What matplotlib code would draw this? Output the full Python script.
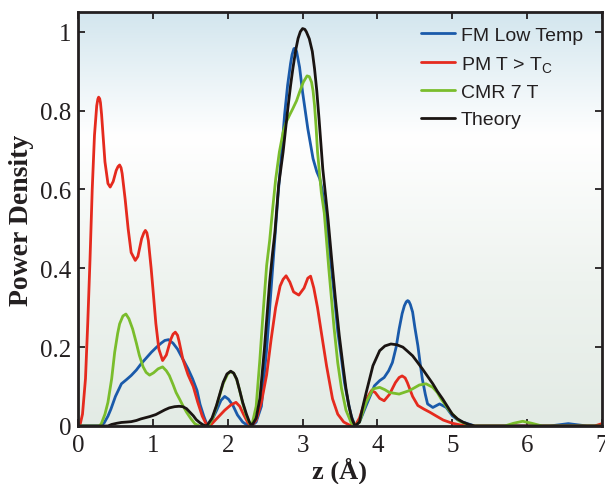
import matplotlib
matplotlib.use("Agg")
import matplotlib.pyplot as plt
import numpy as np
from matplotlib.colors import LinearSegmentedColormap

# ---- data ----
fm_z = [0.0, 0.30, 0.35, 0.40, 0.44, 0.50, 0.58, 0.65, 0.71, 0.78, 0.84, 0.91, 0.98, 1.05, 1.11, 1.16,
        1.21, 1.27, 1.33, 1.40, 1.47, 1.53, 1.59, 1.63, 1.68, 1.72, 1.74, 1.79, 1.85, 1.91, 1.96, 2.01,
        2.07, 2.13, 2.20, 2.27, 2.32, 2.38, 2.45, 2.52, 2.60, 2.67, 2.72, 2.76, 2.80, 2.84, 2.86, 2.884,
        2.90, 2.92, 2.96, 3.00, 3.07, 3.14, 3.19, 3.23, 3.26, 3.29, 3.34, 3.38, 3.43, 3.47, 3.52, 3.56,
        3.61, 3.65, 3.70, 3.76, 3.85, 3.96, 4.03, 4.09, 4.15, 4.20, 4.25, 4.29, 4.33, 4.36, 4.385, 4.404,
        4.42, 4.44, 4.47, 4.50, 4.54, 4.57, 4.60, 4.64, 4.67, 4.74, 4.83, 4.92, 5.00, 5.07, 5.14, 5.30,
        6.30, 6.55, 6.80, 7.00]
fm_v = [0.0, 0.0, 0.008, 0.025, 0.043, 0.075, 0.107, 0.118, 0.128, 0.142, 0.157, 0.172, 0.187, 0.200, 0.210, 0.217,
        0.219, 0.210, 0.195, 0.170, 0.145, 0.120, 0.090, 0.055, 0.025, 0.005, 0.0, 0.015, 0.039, 0.065, 0.075, 0.068,
        0.052, 0.028, 0.010, 0.001, 0.0, 0.010, 0.050, 0.195, 0.400, 0.580, 0.695, 0.790, 0.864, 0.920, 0.942, 0.957,
        0.958, 0.950, 0.910, 0.847, 0.754, 0.678, 0.645, 0.627, 0.600, 0.560, 0.490, 0.410, 0.320, 0.240, 0.170, 0.110,
        0.060, 0.026, 0.0, 0.010, 0.052, 0.102, 0.115, 0.123, 0.140, 0.161, 0.200, 0.246, 0.285, 0.305, 0.315, 0.318,
        0.316, 0.308, 0.289, 0.250, 0.204, 0.160, 0.119, 0.080, 0.056, 0.047, 0.056, 0.047, 0.026, 0.016, 0.010, 0.0,
        0.0, 0.006, 0.0, 0.0]

pm_z = [0.0, 0.03, 0.06, 0.10, 0.13, 0.16, 0.19, 0.22, 0.25, 0.265, 0.276, 0.29, 0.30, 0.315, 0.33, 0.36,
        0.40, 0.43, 0.47, 0.51, 0.535, 0.556, 0.575, 0.59, 0.63, 0.67, 0.71, 0.765, 0.80, 0.85, 0.88, 0.90,
        0.92, 0.94, 0.977, 1.00, 1.04, 1.08, 1.13, 1.18, 1.24, 1.27, 1.30, 1.33, 1.35, 1.40, 1.47, 1.54,
        1.60, 1.66, 1.72, 1.76, 1.82, 1.89, 1.96, 2.04, 2.11, 2.16, 2.21, 2.27, 2.32, 2.38, 2.45, 2.52,
        2.58, 2.64, 2.70, 2.74, 2.78, 2.83, 2.88, 2.95, 3.02, 3.07, 3.107, 3.15, 3.20, 3.25, 3.32, 3.40,
        3.47, 3.55, 3.63, 3.70, 3.76, 3.83, 3.92, 3.97, 4.03, 4.09, 4.16, 4.24, 4.29, 4.33, 4.37, 4.40,
        4.47, 4.54, 4.62, 4.70, 4.78, 4.88, 5.00, 5.10, 5.25, 6.00, 6.90, 7.00]
pm_v = [0.0, 0.005, 0.030, 0.120, 0.260, 0.420, 0.600, 0.737, 0.812, 0.829, 0.834, 0.830, 0.820, 0.790, 0.750, 0.670,
        0.615, 0.606, 0.620, 0.648, 0.658, 0.662, 0.655, 0.640, 0.575, 0.500, 0.440, 0.420, 0.430, 0.475, 0.490, 0.496,
        0.490, 0.470, 0.400, 0.350, 0.260, 0.195, 0.166, 0.180, 0.220, 0.233, 0.238, 0.230, 0.215, 0.170, 0.130, 0.100,
        0.060, 0.025, 0.002, 0.0, 0.012, 0.026, 0.040, 0.053, 0.060, 0.050, 0.030, 0.008, 0.0, 0.015, 0.060, 0.130,
        0.220, 0.300, 0.355, 0.372, 0.381, 0.365, 0.340, 0.332, 0.350, 0.375, 0.380, 0.350, 0.300, 0.238, 0.153, 0.069,
        0.030, 0.010, 0.002, 0.0, 0.020, 0.060, 0.090, 0.085, 0.070, 0.064, 0.080, 0.110, 0.123, 0.127, 0.122, 0.110,
        0.075, 0.052, 0.043, 0.035, 0.026, 0.015, 0.007, 0.003, 0.0, 0.0, 0.0, 0.006]

cmr_z = [0.0, 0.28, 0.31, 0.36, 0.40, 0.45, 0.49, 0.53, 0.556, 0.60, 0.64, 0.68, 0.73, 0.78, 0.82, 0.87,
         0.91, 0.956, 1.01, 1.07, 1.13, 1.18, 1.22, 1.27, 1.31, 1.36, 1.40, 1.45, 1.51, 1.56, 1.62, 1.74,
         1.80, 1.85, 1.94, 2.00, 2.04, 2.08, 2.12, 2.16, 2.20, 2.25, 2.29, 2.32, 2.38, 2.43, 2.47, 2.52,
         2.56, 2.60, 2.64, 2.69, 2.74, 2.78, 2.83, 2.87, 2.92, 2.96, 3.01, 3.06, 3.09, 3.12, 3.14, 3.16,
         3.18, 3.20, 3.25, 3.29, 3.35, 3.42, 3.47, 3.52, 3.58, 3.65, 3.70, 3.76, 3.85, 3.94, 4.03, 4.10,
         4.16, 4.29, 4.43, 4.56, 4.65, 4.74, 4.80, 4.85, 4.96, 5.09, 5.25, 5.70, 5.82, 5.94, 6.06, 6.20, 7.00]
cmr_v = [0.0, 0.0, 0.005, 0.030, 0.060, 0.120, 0.187, 0.235, 0.259, 0.279, 0.284, 0.272, 0.246, 0.210, 0.179, 0.150,
         0.136, 0.129, 0.135, 0.145, 0.150, 0.140, 0.128, 0.105, 0.085, 0.067, 0.052, 0.035, 0.018, 0.006, 0.0, 0.0,
         0.020, 0.050, 0.108, 0.132, 0.138, 0.134, 0.118, 0.090, 0.058, 0.025, 0.008, 0.0, 0.050, 0.170, 0.280, 0.407,
         0.470, 0.550, 0.625, 0.695, 0.745, 0.770, 0.790, 0.805, 0.825, 0.847, 0.872, 0.888, 0.886, 0.872, 0.850, 0.813,
         0.760, 0.695, 0.593, 0.540, 0.400, 0.250, 0.160, 0.095, 0.040, 0.008, 0.0, 0.010, 0.060, 0.094, 0.098, 0.092,
         0.085, 0.081, 0.090, 0.104, 0.107, 0.098, 0.085, 0.069, 0.039, 0.013, 0.0, 0.0, 0.007, 0.012, 0.007, 0.0, 0.0]

th_z = [0.0, 0.40, 0.45, 0.52, 0.58, 0.65, 0.71, 0.78, 0.84, 0.90, 0.96, 1.04, 1.10, 1.16, 1.22, 1.29,
        1.35, 1.40, 1.45, 1.49, 1.54, 1.58, 1.63, 1.68, 1.72, 1.79, 1.85, 1.90, 1.94, 1.99, 2.04, 2.08,
        2.12, 2.16, 2.20, 2.25, 2.29, 2.32, 2.38, 2.43, 2.49, 2.56, 2.60, 2.63, 2.68, 2.74, 2.80, 2.84,
        2.87, 2.91, 2.94, 2.97, 3.00, 3.03, 3.05, 3.09, 3.13, 3.16, 3.19, 3.22, 3.27, 3.34, 3.39, 3.44,
        3.49, 3.54, 3.58, 3.62, 3.66, 3.70, 3.76, 3.80, 3.85, 3.94, 4.03, 4.10, 4.18, 4.26, 4.34, 4.40,
        4.47, 4.53, 4.60, 4.67, 4.74, 4.80, 4.87, 4.94, 5.00, 5.07, 5.14, 5.22, 5.30, 7.00]
th_v = [0.0, 0.0, 0.004, 0.007, 0.009, 0.010, 0.011, 0.014, 0.018, 0.021, 0.024, 0.029, 0.035, 0.041, 0.046, 0.049,
        0.050, 0.049, 0.044, 0.036, 0.026, 0.016, 0.008, 0.002, 0.0, 0.020, 0.052, 0.085, 0.111, 0.132, 0.139, 0.134,
        0.119, 0.090, 0.060, 0.030, 0.010, 0.0, 0.020, 0.070, 0.195, 0.365, 0.440, 0.490, 0.610, 0.695, 0.800, 0.864,
        0.906, 0.955, 0.983, 1.000, 1.008, 1.006, 1.000, 0.982, 0.950, 0.906, 0.850, 0.779, 0.652, 0.525, 0.420, 0.320,
        0.230, 0.153, 0.095, 0.050, 0.018, 0.0, 0.010, 0.045, 0.085, 0.153, 0.191, 0.203, 0.208, 0.206, 0.200, 0.190,
        0.178, 0.163, 0.145, 0.126, 0.107, 0.088, 0.069, 0.048, 0.030, 0.018, 0.010, 0.004, 0.0, 0.0]

series_labels = ["FM Low Temp", "PM T > T$\\mathregular{_C}$", "CMR 7 T", "Theory"]
x_ticks = [0, 1, 2, 3, 4, 5, 6, 7]
y_ticks = [0, 0.2, 0.4, 0.6, 0.8, 1.0]
y_tick_labels = ["0", "0.2", "0.4", "0.6", "0.8", "1"]

colors = ["#1a5aaa", "#e52a1e", "#7abd2c", "#1a1412"]
spine_col = "#231f20"

plt.rcParams["font.family"] = ["Liberation Serif", "DejaVu Serif"]

fig = plt.figure(figsize=(6.05, 4.85), dpi=100)
ax = fig.add_axes([78 / 605, 58 / 485, 524 / 605, 414 / 485])

xlim = (0, 7)
ylim = (0, 1.05)

# background gradient (light blue on top, white, pale green-grey at the bottom)
grad_cmap = LinearSegmentedColormap.from_list(
    "bg", [(0.0, "#e3ebe5"), (0.35, "#eef3ef"), (0.70, "#ffffff"), (1.0, "#d3e6ee")])
grad = np.linspace(0, 1, 256).reshape(-1, 1)
ax.imshow(grad, cmap=grad_cmap, origin="lower", aspect="auto",
          extent=[xlim[0], xlim[1], ylim[0], ylim[1]], zorder=0)

all_z = [fm_z, pm_z, cmr_z, th_z]
all_v = [fm_v, pm_v, cmr_v, th_v]
for z, v, c, lab in zip(all_z, all_v, colors, series_labels):
    ax.plot(z, v, color=c, lw=2.0, label=lab, zorder=3,
            solid_joinstyle="round", solid_capstyle="round")

ax.set_xlim(*xlim)
ax.set_ylim(*ylim)
ax.set_xticks(x_ticks)
ax.set_yticks(y_ticks)
ax.set_yticklabels(y_tick_labels)
ax.tick_params(direction="in", length=5, width=1.3, top=True, right=True,
               labelsize=18, color=spine_col, labelcolor=spine_col)
ax.tick_params(axis="x", pad=6)
ax.tick_params(axis="y", pad=5)
for s in ax.spines.values():
    s.set_linewidth(2.0)
    s.set_color(spine_col)
    s.set_zorder(5)

ax.set_xlabel("z (Å)", fontsize=19, fontweight="bold", color=spine_col, labelpad=0)
ax.set_ylabel("Power Density", fontsize=20, fontweight="bold", color=spine_col, labelpad=4)

leg = ax.legend(loc="upper left", bbox_to_anchor=(0.655, 0.965), frameon=False,
                prop={"family": "Liberation Sans", "size": 14}, handlelength=1.75,
                handletextpad=0.3, labelspacing=0.5, borderpad=0, borderaxespad=0)
for t in leg.get_texts():
    t.set_color(spine_col)

fig.savefig("out.png", dpi=100)
